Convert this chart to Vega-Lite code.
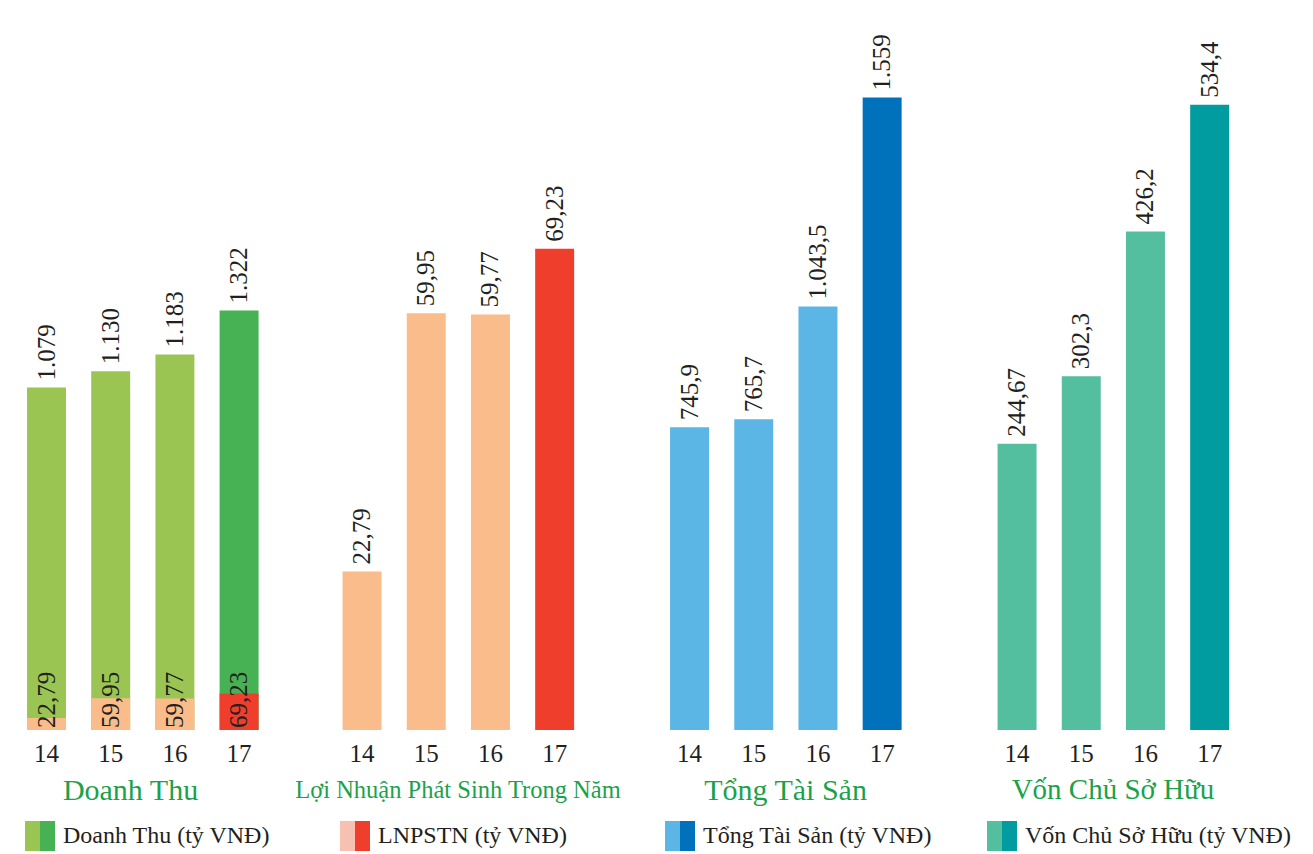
{
  "$schema": "https://vega.github.io/schema/vega-lite/v6.json",
  "padding": {"left": 0, "top": 0, "right": 0, "bottom": 0},
  "autosize": {"type": "pad"},
  "background": "white",
  "bounds": "full",
  "spacing": 16,
  "config": {
    "view": {"stroke": null},
    "axis": {
      "domain": false, "ticks": false, "grid": false,
      "labelFont": "Liberation Serif", "labelFontSize": 25, "labelColor": "#231f20",
      "labelPadding": 11, "labelAngle": 0,
      "titleFont": "Liberation Serif", "titleFontSize": 30, "titleColor": "#1aa24b",
      "titleFontWeight": "normal", "titlePadding": 9
    },
    "text": {"font": "Liberation Serif", "fontSize": 25, "color": "#231f20"}
  },
  "datasets": {
    "dt": [
      {"year": "14", "value": 1079, "label": "1.079", "shade": "light"},
      {"year": "15", "value": 1130, "label": "1.130", "shade": "light"},
      {"year": "16", "value": 1183, "label": "1.183", "shade": "light"},
      {"year": "17", "value": 1322, "label": "1.322", "shade": "dark"}
    ],
    "ln": [
      {"year": "14", "value": 22.79, "label": "22,79", "shade": "light"},
      {"year": "15", "value": 59.95, "label": "59,95", "shade": "light"},
      {"year": "16", "value": 59.77, "label": "59,77", "shade": "light"},
      {"year": "17", "value": 69.23, "label": "69,23", "shade": "dark"}
    ],
    "tts": [
      {"year": "14", "value": 745.9, "label": "745,9", "shade": "light"},
      {"year": "15", "value": 765.7, "label": "765,7", "shade": "light"},
      {"year": "16", "value": 1043.5, "label": "1.043,5", "shade": "light"},
      {"year": "17", "value": 1559, "label": "1.559", "shade": "dark"}
    ],
    "vcsh": [
      {"year": "14", "value": 244.67, "label": "244,67", "shade": "light"},
      {"year": "15", "value": 302.3, "label": "302,3", "shade": "light"},
      {"year": "16", "value": 426.2, "label": "426,2", "shade": "light"},
      {"year": "17", "value": 534.4, "label": "534,4", "shade": "dark"}
    ],
    "swatch": [{"shade": "light"}, {"shade": "dark"}]
  },
  "vconcat": [
    {
      "bounds": "flush",
      "spacing": 67.5,
      "hconcat": [
        {
          "width": 260, "height": 730,
          "encoding": {
            "x": {"field": "year", "type": "nominal", "scale": {"paddingInner": 0.393, "paddingOuter": 0.2215, "align": 0.95}, "axis": {"title": "Doanh Thu"}}
          },
          "layer": [
            {
              "data": {"name": "dt"},
              "encoding": {"y": {"field": "value", "type": "quantitative", "scale": {"domain": [0, 2300]}, "axis": null}},
              "layer": [
                {"mark": {"type": "bar"}, "encoding": {"color": {"condition": {"test": "datum.shade == 'dark'", "value": "#46b254"}, "value": "#9bc553"}}},
                {"mark": {"type": "text", "angle": 270, "align": "left", "baseline": "middle", "dx": 7}, "encoding": {"text": {"field": "label"}}}
              ]
            },
            {
              "data": {"name": "ln"},
              "encoding": {"y": {"field": "value", "type": "quantitative", "scale": {"domain": [0, 1380]}, "axis": null}},
              "layer": [
                {"mark": {"type": "bar"}, "encoding": {"color": {"condition": {"test": "datum.shade == 'dark'", "value": "#ef3e2c"}, "value": "#f9bc8a"}}},
                {"mark": {"type": "text", "angle": 270, "align": "left", "baseline": "middle", "dx": 2}, "encoding": {"y": {"datum": 0, "type": "quantitative"}, "text": {"field": "label"}}}
              ]
            }
          ],
          "resolve": {"scale": {"y": "independent"}}
        },
        {
          "width": 260, "height": 730,
          "data": {"name": "ln"},
          "encoding": {
            "x": {"field": "year", "type": "nominal", "scale": {"paddingInner": 0.393, "paddingOuter": 0.2215, "align": 0.53}, "axis": {"title": "Lợi Nhuận Phát Sinh Trong Năm", "titleFontSize": 24.5, "titlePadding": 12}},
            "y": {"field": "value", "type": "quantitative", "scale": {"domain": [0, 105]}, "axis": null}
          },
          "layer": [
            {"mark": {"type": "bar"}, "encoding": {"color": {"condition": {"test": "datum.shade == 'dark'", "value": "#ef3e2c"}, "value": "#f9bc8a"}}},
            {"mark": {"type": "text", "angle": 270, "align": "left", "baseline": "middle", "dx": 7}, "encoding": {"text": {"field": "label"}}}
          ]
        },
        {
          "width": 260, "height": 730,
          "data": {"name": "tts"},
          "encoding": {
            "x": {"field": "year", "type": "nominal", "scale": {"paddingInner": 0.393, "paddingOuter": 0.2215, "align": 0.53}, "axis": {"title": "Tổng Tài Sản"}},
            "y": {"field": "value", "type": "quantitative", "scale": {"domain": [0, 1799]}, "axis": null}
          },
          "layer": [
            {"mark": {"type": "bar"}, "encoding": {"color": {"condition": {"test": "datum.shade == 'dark'", "value": "#0072bc"}, "value": "#5bb5e5"}}},
            {"mark": {"type": "text", "angle": 270, "align": "left", "baseline": "middle", "dx": 7}, "encoding": {"text": {"field": "label"}}}
          ]
        },
        {
          "width": 260, "height": 730,
          "data": {"name": "vcsh"},
          "encoding": {
            "x": {"field": "year", "type": "nominal", "scale": {"paddingInner": 0.393, "paddingOuter": 0.2215, "align": 0.53}, "axis": {"title": "Vốn Chủ Sở Hữu", "titleFontSize": 29}},
            "y": {"field": "value", "type": "quantitative", "scale": {"domain": [0, 624]}, "axis": null}
          },
          "layer": [
            {"mark": {"type": "bar"}, "encoding": {"color": {"condition": {"test": "datum.shade == 'dark'", "value": "#009c9f"}, "value": "#53bf9f"}}},
            {"mark": {"type": "text", "angle": 270, "align": "left", "baseline": "middle", "dx": 7}, "encoding": {"text": {"field": "label"}}}
          ]
        }
      ],
      "resolve": {"scale": {"x": "independent", "y": "independent"}}
    },
    {
      "bounds": "flush",
      "spacing": 270,
      "hconcat": [
        {
          "width": 55, "height": 30,
          "layer": [
            {"data": {"name": "swatch"}, "mark": {"type": "bar"},
             "encoding": {"x": {"field": "shade", "type": "nominal", "sort": ["light", "dark"], "scale": {"paddingInner": 0, "paddingOuter": 0.8333, "align": 1}, "axis": null},
                          "color": {"condition": {"test": "datum.shade == 'dark'", "value": "#46b254"}, "value": "#9bc553"}}},
            {"data": {"values": [{"shade": "dark", "label": "Doanh Thu (tỷ VNĐ)"}]}, "mark": {"type": "text", "align": "left", "baseline": "middle", "dx": 8, "fontSize": 24},
             "encoding": {"x": {"field": "shade", "type": "nominal", "sort": ["light", "dark"], "bandPosition": 1}, "text": {"field": "label"}}}
          ]
        },
        {
          "width": 45, "height": 30,
          "layer": [
            {"data": {"name": "swatch"}, "mark": {"type": "bar"},
             "encoding": {"x": {"field": "shade", "type": "nominal", "sort": ["light", "dark"], "scale": {"paddingInner": 0, "paddingOuter": 0.5, "align": 1}, "axis": null},
                          "color": {"condition": {"test": "datum.shade == 'dark'", "value": "#ef3e2c"}, "value": "#f6c1b1"}}},
            {"data": {"values": [{"shade": "dark", "label": "LNPSTN (tỷ VNĐ)"}]}, "mark": {"type": "text", "align": "left", "baseline": "middle", "dx": 8, "fontSize": 24},
             "encoding": {"x": {"field": "shade", "type": "nominal", "sort": ["light", "dark"], "bandPosition": 1}, "text": {"field": "label"}}}
          ]
        },
        {
          "width": 55, "height": 30,
          "layer": [
            {"data": {"name": "swatch"}, "mark": {"type": "bar"},
             "encoding": {"x": {"field": "shade", "type": "nominal", "sort": ["light", "dark"], "scale": {"paddingInner": 0, "paddingOuter": 0.8333, "align": 1}, "axis": null},
                          "color": {"condition": {"test": "datum.shade == 'dark'", "value": "#0072bc"}, "value": "#5bb5e5"}}},
            {"data": {"values": [{"shade": "dark", "label": "Tổng Tài Sản (tỷ VNĐ)"}]}, "mark": {"type": "text", "align": "left", "baseline": "middle", "dx": 8, "fontSize": 24},
             "encoding": {"x": {"field": "shade", "type": "nominal", "sort": ["light", "dark"], "bandPosition": 1}, "text": {"field": "label"}}}
          ]
        },
        {
          "width": 52, "height": 30,
          "layer": [
            {"data": {"name": "swatch"}, "mark": {"type": "bar"},
             "encoding": {"x": {"field": "shade", "type": "nominal", "sort": ["light", "dark"], "scale": {"paddingInner": 0, "paddingOuter": 0.7333, "align": 1}, "axis": null},
                          "color": {"condition": {"test": "datum.shade == 'dark'", "value": "#009c9f"}, "value": "#53bf9f"}}},
            {"data": {"values": [{"shade": "dark", "label": "Vốn Chủ Sở Hữu (tỷ VNĐ)"}]}, "mark": {"type": "text", "align": "left", "baseline": "middle", "dx": 8, "fontSize": 24},
             "encoding": {"x": {"field": "shade", "type": "nominal", "sort": ["light", "dark"], "bandPosition": 1}, "text": {"field": "label"}}}
          ]
        }
      ],
      "resolve": {"scale": {"x": "independent"}}
    }
  ],
  "resolve": {"scale": {"x": "independent", "y": "independent"}}
}
